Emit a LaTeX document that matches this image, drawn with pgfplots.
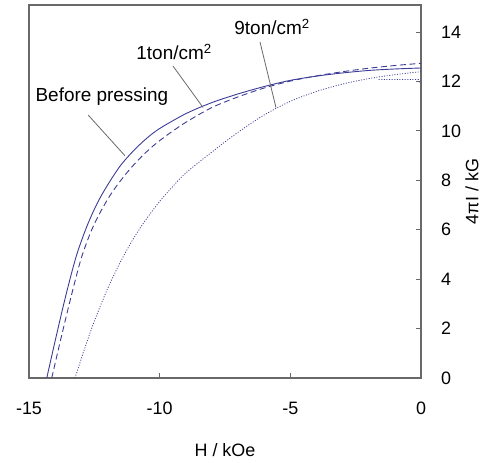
\documentclass[border=0pt]{standalone}
\usepackage{fontspec}
\setmainfont{Liberation Sans}
\usepackage{pgfplots}
\pgfplotsset{compat=1.18}
\definecolor{curve}{RGB}{60,60,150}
\definecolor{frame}{RGB}{105,105,105}
\begin{document}
\fontsize{18}{21}\selectfont
\begin{tikzpicture}
\begin{axis}[
  at={(0,0)}, anchor=south west,
  scale only axis, width=392bp, height=373bp,
  xmin=-15, xmax=0, ymin=0, ymax=15.1,
  xtick={-15,-10,-5,0}, ytick={0,2,...,14},
  xtick pos=left, ytick pos=right,
  yticklabel pos=right,
  tick align=inside,
  major tick length=5bp,
  axis line style={frame, line width=1.2bp},
  every tick/.style={frame, line width=1bp},
  tick label style={font=\fontsize{18}{21}\selectfont},
  /pgf/number format/assume math mode=true,
  xticklabel style={yshift=-18bp},
  yticklabel style={xshift=14bp},
  xlabel={H / kOe}, ylabel={4πI / kG},
  label style={font=\fontsize{18}{21}\selectfont},
  xlabel style={yshift=-16bp},
  ylabel style={yshift=8bp},
  clip=false,
]
\addplot[curve, line width=0.9bp, smooth, tension=0.5] coordinates {
(-14.32,0) (-14.0,1.5) (-13.6,3.3) (-13.2,4.9) (-12.8,6.1) (-12.4,7.05)
(-12.0,7.8) (-11.5,8.6) (-11.0,9.2) (-10.5,9.7) (-10.0,10.1) (-9.0,10.7)
(-8.0,11.15) (-7.0,11.5) (-6.0,11.8) (-5.0,12.05) (-4.0,12.22) (-3.0,12.35)
(-2.0,12.45) (-1.0,12.51) (0,12.55)};
\addplot[curve, line width=0.9bp, dash pattern=on 6bp off 3.5bp, smooth, tension=0.5] coordinates {
(-14.13,0) (-13.8,1.5) (-13.4,3.25) (-13.0,4.85) (-12.6,6.0) (-12.2,6.85)
(-11.8,7.55) (-11.3,8.25) (-10.8,8.85) (-10.3,9.35) (-9.8,9.77) (-9.0,10.35)
(-8.0,10.95) (-7.0,11.38) (-6.0,11.74) (-5.0,12.02) (-4.0,12.23) (-3.0,12.4)
(-2.0,12.54) (-1.0,12.65) (0,12.74)};
\addplot[curve, line width=0.8bp, dash pattern=on 1bp off 1.6bp, smooth, tension=0.5] coordinates {
(-13.24,0) (-12.9,1.1) (-12.5,2.3) (-12.0,3.6) (-11.5,4.7) (-11.0,5.65)
(-10.5,6.45) (-10.0,7.15) (-9.5,7.75) (-9.0,8.3) (-8.0,9.15) (-7.0,9.95)
(-6.0,10.65) (-5.0,11.2) (-4.0,11.6) (-3.0,11.9) (-2.0,12.12) (-1.0,12.28)
(0,12.4)};
\addplot[curve, line width=0.8bp, dash pattern=on 1bp off 1.6bp] coordinates {
(-1.62,12.08) (-0.1,12.08) (-0.05,11.95)};
\draw[frame, line width=0.8bp] (axis cs:-12.74,10.65) -- (axis cs:-11.33,9.0);
\draw[frame, line width=0.8bp] (axis cs:-9.49,12.63) -- (axis cs:-8.34,10.95);
\draw[frame, line width=0.8bp] (axis cs:-6.16,13.6) -- (axis cs:-5.55,10.95);
\node[font=\fontsize{19}{22}\selectfont] at (axis cs:-12.21,11.38) {Before pressing};
\node[font=\fontsize{19}{22}\selectfont] at (axis cs:-9.45,13.2) {1ton/cm\textsuperscript{2}};
\node[font=\fontsize{19}{22}\selectfont] at (axis cs:-5.7,14.2) {9ton/cm\textsuperscript{2}};
\end{axis}
\pgfresetboundingbox
\useasboundingbox (-29bp,-85bp) rectangle (461bp,378bp);
\end{tikzpicture}
\end{document}
